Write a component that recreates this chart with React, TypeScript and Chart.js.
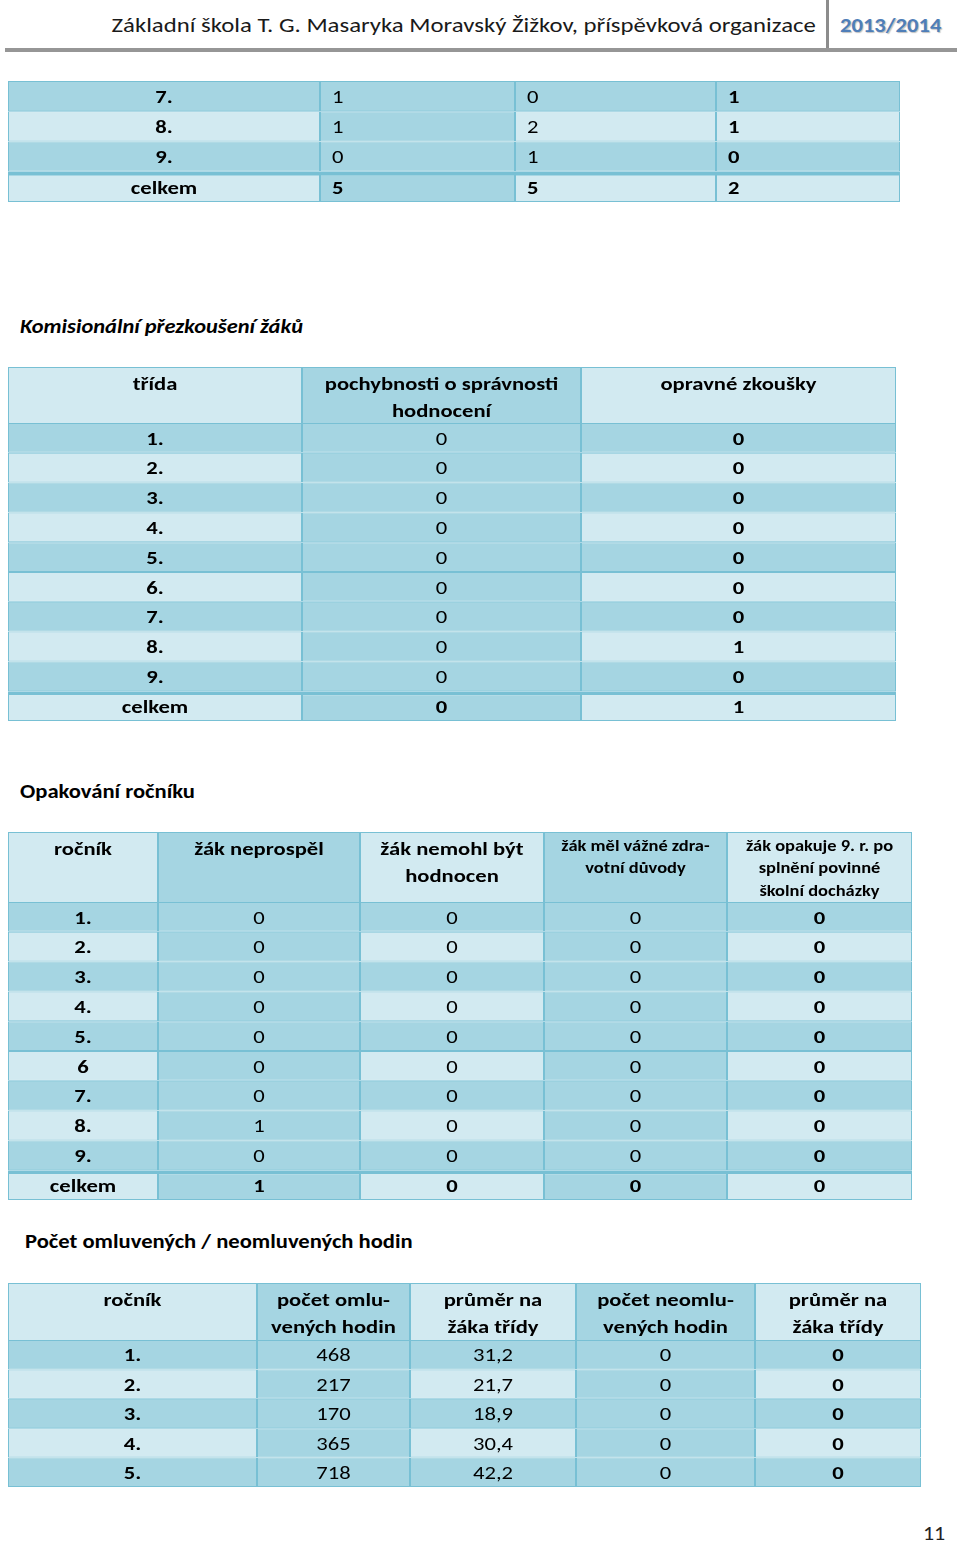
import React, { useEffect, useRef } from "react";
import { Chart, registerables } from "chart.js";

Chart.register(...registerables);

const FONT = "Carlito, Lato, 'Noto Sans', sans-serif";
const DARK = "#A5D5E2";
const LIGHT = "#D2EAF1";
const LINE = "#78C0D4";
const BODY_SIZE = 19;
const STRETCH = 1.19; // the page is stretched horizontally

// ---- Table 1 (continued from previous page) ----
const t1Classes = ["7.", "8.", "9.", "celkem"];
const t1ColA = [1, 1, 0, 5];
const t1ColB = [0, 2, 1, 5];
const t1ColC = [1, 1, 0, 2];

// ---- Komisionální přezkoušení žáků ----
const t2Header = ["třída", "pochybnosti o správnosti\nhodnocení", "opravné zkoušky"];
const t2Classes = ["1.", "2.", "3.", "4.", "5.", "6.", "7.", "8.", "9.", "celkem"];
const t2Doubts = [0, 0, 0, 0, 0, 0, 0, 0, 0, 0];
const t2Retakes = [0, 0, 0, 0, 0, 0, 0, 1, 0, 1];

// ---- Opakování ročníku ----
const t3Header = [
  "ročník",
  "žák neprospěl",
  "žák nemohl být\nhodnocen",
  "žák měl vážné zdra-\nvotní důvody",
  "žák opakuje 9. r. po\nsplnění povinné\nškolní docházky",
];
const t3Grades = ["1.", "2.", "3.", "4.", "5.", "6", "7.", "8.", "9.", "celkem"];
const t3Failed = [0, 0, 0, 0, 0, 0, 0, 1, 0, 1];
const t3NotGraded = [0, 0, 0, 0, 0, 0, 0, 0, 0, 0];
const t3Health = [0, 0, 0, 0, 0, 0, 0, 0, 0, 0];
const t3Repeat9 = [0, 0, 0, 0, 0, 0, 0, 0, 0, 0];

// ---- Počet omluvených / neomluvených hodin ----
const t4Header = [
  "ročník",
  "počet omlu-\nvených hodin",
  "průměr na\nžáka třídy",
  "počet neomlu-\nvených hodin",
  "průměr na\nžáka třídy",
];
const t4Grades = ["1.", "2.", "3.", "4.", "5."];
const t4Excused = [468, 217, 170, 365, 718];
const t4ExcusedAvg = [31.2, 21.7, 18.9, 30.4, 42.2];
const t4Unexcused = [0, 0, 0, 0, 0];
const t4UnexcusedAvg = [0, 0, 0, 0, 0];

const fmt = (v: number) => (Number.isInteger(v) ? String(v) : v.toFixed(1).replace(".", ","));
const col = (a: number[]) => a.map(fmt);

type GridProps = {
  top: number;
  height: number;
  bounds: number[];
  cells: string[][]; // [column][row]
  header?: boolean;
  totalRow?: number;
  leftCols?: number[];
  sizes?: number[];
  firstLine?: number[];
  lineHeights?: number[];
};

function CellGrid(p: GridProps) {
  const ref = useRef<HTMLCanvasElement | null>(null);
  const left = p.bounds[0];
  const right = p.bounds[p.bounds.length - 1];
  const width = right - left;

  useEffect(() => {
    const nCols = p.cells.length;
    const labels = p.cells[0];
    const isDark = (r: number, c: number) =>
      (!p.header && r % 2 === 0) || (c % 2 === 1 && c !== nCols - 1);
    const isBold = (r: number, c: number) =>
      !!p.header || c === 0 || c === nCols - 1 || r === p.totalRow;

    const textPlugin = {
      id: "cellText",
      afterDatasetsDraw(chart: any) {
        const ctx = chart.ctx;
        ctx.save();
        ctx.fillStyle = "#000";
        ctx.textBaseline = "middle";
        chart.data.datasets.forEach((_: any, c: number) => {
          const meta = chart.getDatasetMeta(c);
          meta.data.forEach((el: any, r: number) => {
            const q = el.getProps(["x", "y", "base", "height"], true);
            const l = Math.min(q.x, q.base);
            const rt = Math.max(q.x, q.base);
            const top = q.y - q.height / 2;
            const size = p.sizes ? p.sizes[c] : BODY_SIZE;
            ctx.font = `${isBold(r, c) ? "bold " : ""}${size}px ${FONT}`;
            const leftAligned = p.leftCols && p.leftCols.includes(c);
            ctx.textAlign = leftAligned ? "left" : "center";
            const tx = leftAligned ? l + 12 : (l + rt) / 2;
            const lines = String(p.cells[c][r]).split("\n");
            lines.forEach((ln, i) => {
              const ty = p.header
                ? top + (p.firstLine ? p.firstLine[c] : 18) + i * (p.lineHeights ? p.lineHeights[c] : 27)
                : q.y + 2;
              ctx.save();
              ctx.translate(tx, ty);
              ctx.scale(STRETCH, 1);
              ctx.fillText(ln, 0, 0);
              ctx.restore();
            });
          });
        });
        ctx.restore();
      },
    };

    const chart = new Chart(ref.current as HTMLCanvasElement, {
      type: "bar",
      data: {
        labels,
        datasets: p.cells.map((_, c) => ({
          label: `col${c}`,
          data: labels.map(() => [p.bounds[c], p.bounds[c + 1]]),
          backgroundColor: (ctx: any) => (isDark(ctx.dataIndex, c) ? DARK : LIGHT),
          borderColor: LINE,
          borderWidth: (ctx: any) => ({
            left: 1,
            right: 1,
            top: ctx.dataIndex === p.totalRow ? 4 : 1,
            bottom: 1,
          }),
          borderSkipped: false,
          barPercentage: 1,
          categoryPercentage: 1,
          inflateAmount: 0,
          grouped: false,
        })) as any,
      },
      options: {
        indexAxis: "y",
        responsive: false,
        maintainAspectRatio: false,
        animation: false,
        events: [],
        layout: { padding: 0 },
        plugins: { legend: { display: false }, tooltip: { enabled: false } },
        scales: {
          x: { type: "linear", display: false, min: left, max: right },
          y: { type: "category", display: false, offset: true },
        },
      },
      plugins: [textPlugin],
    });
    return () => chart.destroy();
  }, []);

  return (
    <canvas
      ref={ref}
      width={width}
      height={p.height}
      style={{ position: "absolute", left, top: p.top, width, height: p.height }}
    />
  );
}

function Stretched(props: {
  children: React.ReactNode;
  cy: number;
  left?: number;
  right?: number;
  size: number;
  sx: number;
  style?: React.CSSProperties;
}) {
  const anchorRight = props.right !== undefined;
  return (
    <div
      style={{
        position: "absolute",
        left: props.left,
        right: props.right,
        top: props.cy - 15,
        height: 30,
        lineHeight: "30px",
        fontSize: props.size,
        whiteSpace: "nowrap",
        color: "#000",
        ...props.style,
      }}
    >
      <span
        style={{
          display: "inline-block",
          transform: `scaleX(${props.sx})`,
          transformOrigin: anchorRight ? "right center" : "left center",
        }}
      >
        {props.children}
      </span>
    </div>
  );
}

export default function App() {
  const b1 = [8, 320, 515, 716, 900];
  const b2 = [8, 302, 581, 896];
  const b3 = [8, 158, 360, 544, 727, 912];
  const b4 = [8, 257, 410, 576, 755, 921];

  return (
    <div
      style={{
        position: "absolute",
        left: 0,
        top: 0,
        width: 960,
        height: 1543,
        background: "#fff",
        overflow: "hidden",
        fontFamily: FONT,
      }}
    >
      {/* page header */}
      <Stretched cy={25} right={960 - 816} size={21} sx={1.18} style={{ color: "#1a1a1a" }}>
        Základní škola T. G. Masaryka Moravský Žižkov, příspěvková organizace
      </Stretched>
      <Stretched
        cy={25}
        left={840}
        size={20}
        sx={1.13}
        style={{ fontWeight: 700, color: "#4F7EB8", textShadow: "1px 1px 1px rgba(0,0,0,0.25)" }}
      >
        2013/2014
      </Stretched>
      <div style={{ position: "absolute", left: 826, top: 0, width: 3, height: 52, background: "#8c8c8c" }} />
      <div style={{ position: "absolute", left: 5, top: 48, width: 952, height: 4, background: "#969696" }} />

      {/* Table 1 */}
      <CellGrid
        top={81}
        height={121}
        bounds={b1}
        cells={[t1Classes, col(t1ColA), col(t1ColB), col(t1ColC)]}
        totalRow={3}
        leftCols={[1, 2, 3]}
      />

      {/* Komisionální přezkoušení žáků */}
      <Stretched cy={326} left={20} size={20} sx={1.12} style={{ fontWeight: 700, fontStyle: "italic" }}>
        Komisionální přezkoušení žáků
      </Stretched>
      <CellGrid top={367} height={57} bounds={b2} cells={t2Header.map((h) => [h])} header />
      <CellGrid
        top={423}
        height={298}
        bounds={b2}
        cells={[t2Classes, col(t2Doubts), col(t2Retakes)]}
        totalRow={9}
      />

      {/* Opakování ročníku */}
      <Stretched cy={791} left={20} size={20} sx={1.13} style={{ fontWeight: 700 }}>
        Opakování ročníku
      </Stretched>
      <CellGrid
        top={832}
        height={71}
        bounds={b3}
        cells={t3Header.map((h) => [h])}
        header
        sizes={[19, 19, 19, 15.5, 15.5]}
        firstLine={[18, 18, 18, 15, 15]}
        lineHeights={[27, 27, 27, 22.5, 22.5]}
      />
      <CellGrid
        top={902}
        height={298}
        bounds={b3}
        cells={[t3Grades, col(t3Failed), col(t3NotGraded), col(t3Health), col(t3Repeat9)]}
        totalRow={9}
      />

      {/* Počet omluvených / neomluvených hodin */}
      <Stretched cy={1241} left={25} size={20} sx={1.13} style={{ fontWeight: 700 }}>
        Počet omluvených / neomluvených hodin
      </Stretched>
      <CellGrid top={1283} height={58} bounds={b4} cells={t4Header.map((h) => [h])} header />
      <CellGrid
        top={1340}
        height={147}
        bounds={b4}
        cells={[t4Grades, col(t4Excused), col(t4ExcusedAvg), col(t4Unexcused), col(t4UnexcusedAvg)]}
      />

      <Stretched cy={1533} right={960 - 945} size={20} sx={1.1} style={{ color: "#222" }}>
        11
      </Stretched>
    </div>
  );
}
